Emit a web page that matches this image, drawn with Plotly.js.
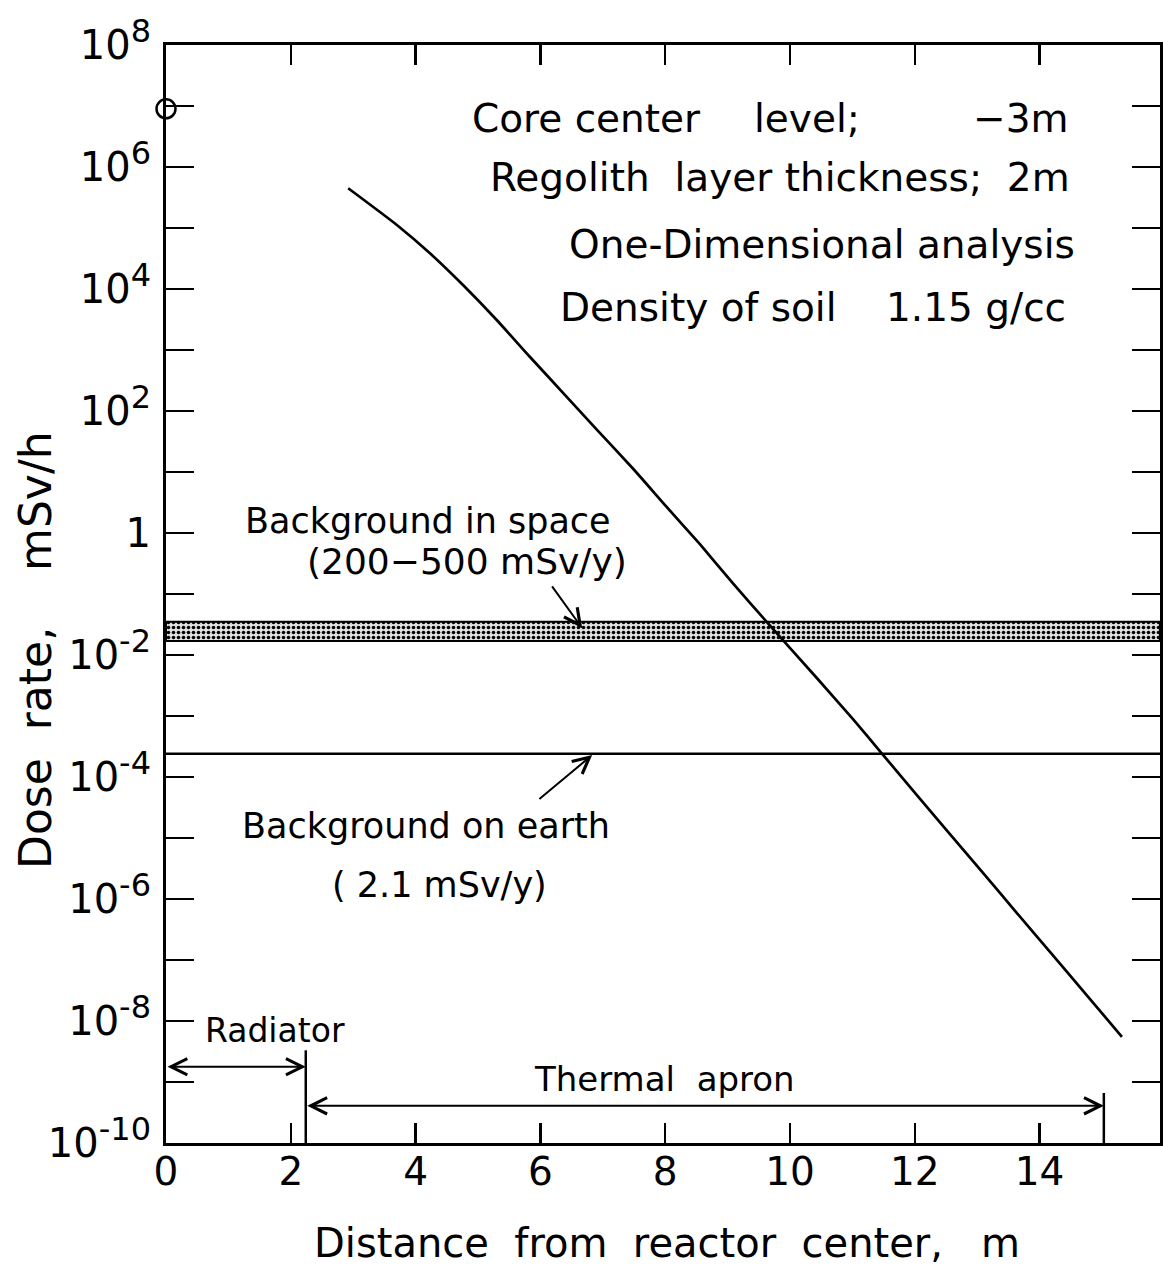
<!DOCTYPE html>
<html>
<head>
<meta charset="utf-8">
<script src="https://cdn.plot.ly/plotly-3.0.1.min.js"></script>
<style>html,body{margin:0;padding:0;background:#fff;}#chart{width:1163px;height:1268px;}</style>
</head>
<body>
<div id="chart"></div>
<script>
// ---- data ----
const distance = [2.92, 3.70, 4.23, 4.76, 5.30, 5.83, 6.37, 6.90, 7.49, 8.02, 8.56, 9.09, 9.63, 10.43, 11.01, 11.47, 12.03, 12.56, 13.10, 13.63, 14.17, 14.70, 15.32];
const doseRate = [4.48e5, 1.12e5, 3.85e4, 1.16e4, 3.1e3, 776, 195, 50, 11.2, 2.7, 0.65, 0.148, 0.0347, 4.2e-3, 8.9e-4, 2.45e-4, 5.1e-5, 1.17e-5, 2.63e-6, 6.0e-7, 1.35e-7, 3.1e-8, 5.5e-9];
const coreDistance = [0];
const coreDose = [9e6];
const spaceBandLow = 0.017;   // mSv/h
const spaceBandHigh = 0.035;  // mSv/h
const earthBackground = 2.4e-4; // mSv/h
const radiatorEnd = 2.24;     // m
const apronEnd = 15.03;       // m
const xMax = 15.93;
const xTickVals = [0, 2, 4, 6, 8, 10, 12, 14];
const yExponents = [-10,-9,-8,-7,-6,-5,-4,-3,-2,-1,0,1,2,3,4,5,6,7,8];
const yTickText = yExponents.map(e => (e % 2 !== 0) ? '' : (e === 0 ? '1' : '10<sup><span style="font-size:32px">' + e + '</span></sup>'));
const yTickVals = yExponents.map(e => Math.pow(10, e));

const FONT = 'DejaVu Sans, Arial, sans-serif';
const L = 166, R = 1160, T = 45, B = 1143;
const px = v => (v - L) / (R - L);
const py = v => (B - v) / (B - T);
const NB = '\u00a0';

const traces = [
  { // space background band
    x: [0, xMax, xMax, 0, 0],
    y: [spaceBandLow, spaceBandLow, spaceBandHigh, spaceBandHigh, spaceBandLow],
    mode: 'lines', fill: 'toself',
    fillcolor: 'rgba(200,200,200,1)',
    fillpattern: {shape: '.', fgcolor: '#000', bgcolor: '#e0e0e0', size: 5, solidity: 0.4},
    line: {color: '#000', width: 2}, hoverinfo: 'skip', showlegend: false
  },
  { // earth background
    x: [0, xMax], y: [earthBackground, earthBackground],
    mode: 'lines', line: {color: '#000', width: 2.5}, showlegend: false
  },
  { // radiator boundary
    x: [radiatorEnd, radiatorEnd], y: [Math.pow(10, -8.48), 1e-10],
    mode: 'lines', line: {color: '#000', width: 2.5}, showlegend: false
  },
  { // apron end
    x: [apronEnd, apronEnd], y: [Math.pow(10, -9.18), 1e-10],
    mode: 'lines', line: {color: '#000', width: 2.5}, showlegend: false
  },
  { // dose curve
    x: distance, y: doseRate, mode: 'lines',
    line: {color: '#000', width: 2.7, shape: 'spline', smoothing: 0.5}, showlegend: false
  },
  { // core point
    x: coreDistance, y: coreDose, mode: 'markers', cliponaxis: false,
    marker: {symbol: 'circle', size: 19, color: '#fff', line: {width: 2.5, color: '#000'}},
    showlegend: false
  }
];

function txt(text, x, y, size, xanchor) {
  return {text: text, xref: 'paper', yref: 'paper', x: x, y: y, xanchor: xanchor || 'left', yanchor: 'middle',
          showarrow: false, font: {family: FONT, size: size, color: '#000'}};
}
function arrow(x, y, ax, ay, both) {
  return {text: '', xref: 'x', yref: 'y', axref: 'x', ayref: 'y', x: x, y: y, ax: ax, ay: ay,
          showarrow: true, arrowhead: 5, arrowside: both ? 'end+start' : 'end', arrowsize: 1.6,
          arrowwidth: 2, arrowcolor: '#000', standoff: 0, startstandoff: 0};
}

const annotations = [
  txt('Core center', px(470), py(118), 39),
  txt('level;', px(752), py(118), 39),
  txt('\u22123m', px(1070), py(118), 39, 'right'),
  txt('Regolith' + NB + NB + 'layer' + NB + 'thickness;' + NB + NB + '2m', px(1072), py(178), 39, 'right'),
  txt('One-Dimensional' + NB + 'analysis', px(1077), py(244), 39, 'right'),
  txt('Density' + NB + 'of' + NB + 'soil', px(558), py(308), 39),
  txt('1.15' + NB + 'g/cc', px(1068), py(308), 39, 'right'),
  txt('Background in space', px(243), py(521), 35),
  txt('(200\u2212500' + NB + 'mSv/y)', px(305), py(561), 36),
  txt('Background on earth', px(240), py(826), 35),
  txt('( 2.1 mSv/y)', px(330), py(885), 35),
  txt('Radiator', px(203), py(1030), 33),
  txt('Thermal' + NB + NB + 'apron', px(532), py(1079), 34),
  // axis titles
  txt('Distance' + NB + NB + 'from' + NB + NB + 'reactor' + NB + NB + 'center,' + NB + NB + NB + 'm', px(667), py(1243), 40, 'center'),
  Object.assign(txt('Dose' + NB + NB + 'rate,' + NB + NB + NB + NB + 'mSv/h', px(35), py(650), 44, 'center'), {textangle: -90}),
  // arrows
  arrow(6.67, -1.56, 6.17, -0.85, false),
  arrow(6.83, -3.64, 5.96, -4.38, false),
  arrow(radiatorEnd, -8.75, 0, -8.75, true),
  arrow(apronEnd, -9.39, radiatorEnd, -9.39, true)
];

const layout = {
  width: 1163, height: 1268,
  margin: {l: L, r: 1163 - R, t: T, b: 1268 - B},
  paper_bgcolor: '#fff', plot_bgcolor: '#fff',
  showlegend: false,
  font: {family: FONT, color: '#000'},
  xaxis: {
    range: [0, xMax], tickvals: xTickVals, ticktext: xTickVals.map(String),
    ticks: 'inside', ticklen: 20, tickwidth: 2.5, tickcolor: '#000',
    showline: true, linewidth: 3, linecolor: '#000', mirror: 'ticks',
    showgrid: false, zeroline: false, ticklabelstandoff: -8,
    tickfont: {family: FONT, size: 39, color: '#000'}
  },
  yaxis: {
    type: 'log', range: [-10, 8], tickvals: yTickVals, ticktext: yTickText,
    ticks: 'inside', ticklen: 28, tickwidth: 2.5, tickcolor: '#000',
    showline: true, linewidth: 3, linecolor: '#000', mirror: 'ticks',
    showgrid: false, zeroline: false, ticklabelstandoff: 4,
    tickfont: {family: FONT, size: 40, color: '#000'}
  },
  annotations: annotations
};

Plotly.newPlot('chart', traces, layout, {staticPlot: true, displayModeBar: false});
</script>
</body>
</html>
